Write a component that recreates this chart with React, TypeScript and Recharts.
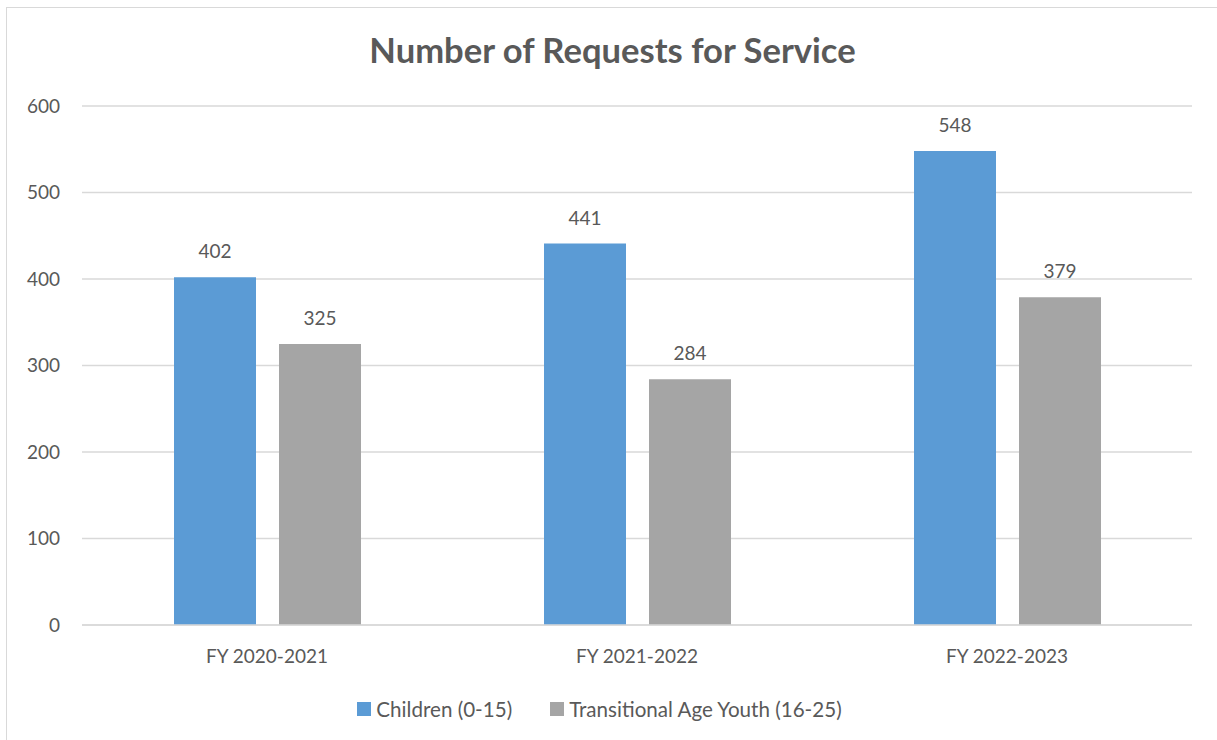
import React from "react";
import { BarChart, Bar, XAxis, YAxis, CartesianGrid, Legend, LabelList } from "recharts";

const categories = ["FY 2020-2021", "FY 2021-2022", "FY 2022-2023"];
const children = [402, 441, 548];
const youth = [325, 284, 379];
const yTicks = [0, 100, 200, 300, 400, 500, 600];
const seriesNames = ["Children (0-15)", "Transitional Age Youth (16-25)"];
const colors = ["#5B9BD5", "#A5A5A5"];

const data = categories.map((c, i) => ({ name: c, children: children[i], youth: youth[i] }));

const FONT = "Lato, 'Open Sans', sans-serif";
const TEXT = "#595959";

const LegendContent = () => (
  <div style={{ display: "flex", justifyContent: "center", alignItems: "center", height: 24, fontFamily: FONT, fontSize: 20.6, color: TEXT, paddingRight: 18 }}>
    {seriesNames.map((n, i) => (
      <div key={n} style={{ display: "flex", alignItems: "center", marginRight: i === 0 ? 38 : 0 }}>
        <div style={{ width: 14, height: 14, background: colors[i], marginRight: 5 }} />
        <span>{n}</span>
      </div>
    ))}
  </div>
);

export default function App() {
  return (
    <div style={{ position: "absolute", left: 0, top: 0, width: 1217, height: 740, background: "#fff", overflow: "hidden" }}>
      <div style={{ position: "absolute", left: 6, top: 7, width: 1240, height: 760, border: "1.5px solid #D9D9D9", boxSizing: "border-box" }} />
      <div style={{ position: "absolute", left: 0, top: 29, width: 1217, paddingLeft: 8, boxSizing: "border-box", textAlign: "center", fontFamily: FONT, fontWeight: 700, fontSize: 34.6, color: TEXT }}>
        Number of Requests for Service
      </div>
      <BarChart
        width={1217}
        height={740}
        data={data}
        margin={{ top: 106, right: 25, left: 0, bottom: 61 }}
        barSize={82}
        barGap={23}
        style={{ position: "absolute", left: 0, top: 0 }}
      >
        <CartesianGrid vertical={false} stroke="#D9D9D9" strokeWidth={1.5} />
        <XAxis
          dataKey="name"
          axisLine={{ stroke: "#D9D9D9", strokeWidth: 1.5 }}
          tickLine={false}
          tickSize={0}
          tickMargin={25}
          height={30}
          tick={{ fill: TEXT, fontFamily: FONT, fontSize: 19 }}
        />
        <YAxis
          width={82}
          domain={[0, 600]}
          ticks={yTicks}
          axisLine={false}
          tickLine={false}
          tickSize={0}
          tickMargin={22}
          tick={{ fill: TEXT, fontFamily: FONT, fontSize: 19 }}
        />
        <Legend content={<LegendContent />} wrapperStyle={{ top: 697, left: 0, width: 1217 }} />
        <Bar dataKey="children" name={seriesNames[0]} fill={colors[0]} isAnimationActive={false}>
          <LabelList dataKey="children" position="top" offset={19} fill={TEXT} fontFamily={FONT} fontSize={19} />
        </Bar>
        <Bar dataKey="youth" name={seriesNames[1]} fill={colors[1]} isAnimationActive={false}>
          <LabelList dataKey="youth" position="top" offset={19} fill={TEXT} fontFamily={FONT} fontSize={19} />
        </Bar>
      </BarChart>
    </div>
  );
}
